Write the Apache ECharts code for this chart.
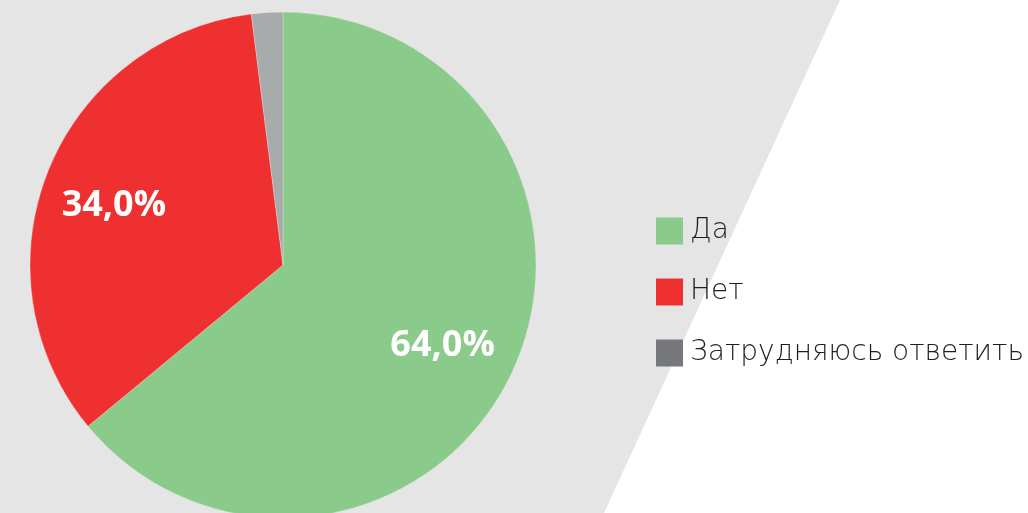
<!DOCTYPE html>
<html>
<head>
<meta charset="utf-8">
<script src="https://cdn.jsdelivr.net/npm/echarts@6/dist/echarts.min.js"></script>
<style>
  html, body { margin: 0; padding: 0; background: #ffffff; }
  #chart { width: 1028px; height: 513px; }
</style>
</head>
<body>
<div id="chart"></div>
<script>
const categories = ['Да', 'Нет', 'Затрудняюсь ответить'];
const values = [64.0, 34.0, 2.0];
const sliceColors = ['#8aca8a', '#ef3030', '#a8abab'];
const legendColors = ['#8aca8a', '#ef3030', '#76787b'];
// small nudges so the percent labels sit where the original puts them
const labelOffsets = [[-6, 3], [1, 8], [0, 0]];

var chart = echarts.init(document.getElementById('chart'));

const pieData = categories.map((name, i) => ({
  name: name,
  value: values[i],
  itemStyle: { color: sliceColors[i] }
}));

const option = {
  animation: false,
  graphic: [
    {
      type: 'polygon',
      z: -10,
      shape: { points: [[0, 0], [840, 0], [604, 513], [0, 513]] },
      style: { fill: '#e5e5e5' }
    }
  ],
  legend: {
    orient: 'vertical',
    left: 656,
    top: 217,
    padding: 0,
    itemWidth: 27,
    itemHeight: 27,
    itemGap: 33,
    icon: 'rect',
    itemStyle: { borderWidth: 0 },
    textStyle: {
      fontFamily: 'DejaVu Sans',
      fontWeight: 300,
      fontSize: 28,
      color: '#1e1e1e',
      padding: [5, 0, 0, 2]
    },
    data: categories.map((name, i) => ({ name: name, itemStyle: { color: legendColors[i], borderWidth: 0 } }))
  },
  series: [
    {
      type: 'pie',
      center: [283, 265],
      radius: 253,
      startAngle: 90,
      clockwise: true,
      silent: true,
      itemStyle: { borderColor: 'rgba(255,255,255,0.5)', borderWidth: 0.5 },
      label: { show: false },
      labelLine: { show: false },
      data: pieData
    },
    {
      // transparent ring, only to place the percent labels further out
      type: 'pie',
      center: [283, 265],
      radius: [107, 253],
      startAngle: 90,
      clockwise: true,
      silent: true,
      legendHoverLink: false,
      itemStyle: { color: 'transparent' },
      label: {
        show: true,
        position: 'inside',
        fontFamily: 'Open Sans',
        fontWeight: 'bold',
        fontSize: 36,
        color: '#ffffff',
        formatter: (p) => p.value >= 10 ? p.value.toFixed(1).replace('.', ',') + '%' : ''
      },
      labelLine: { show: false },
      data: categories.map((name, i) => ({
        name: name,
        value: values[i],
        label: { offset: labelOffsets[i] }
      }))
    }
  ]
};

chart.setOption(option);
</script>
</body>
</html>
